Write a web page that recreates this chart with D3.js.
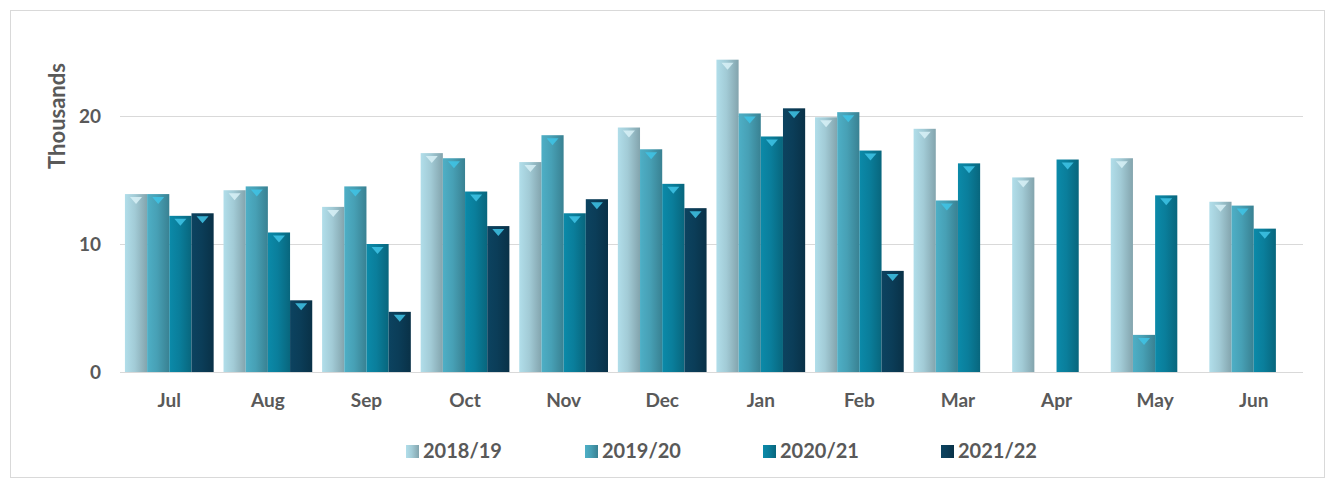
<!DOCTYPE html>
<html>
<head>
<meta charset="utf-8">
<script src="https://cdn.jsdelivr.net/npm/d3@7"></script>
<style>
  body{margin:0;background:#fff;}
  text{font-family:Lato,"Open Sans",sans-serif;}
</style>
</head>
<body>
<svg id="chart" width="1330" height="482"></svg>
<script>
// data (thousands)
let months = ["Jul","Aug","Sep","Oct","Nov","Dec","Jan","Feb","Mar","Apr","May","Jun"];
let seasons = ["2018/19","2019/20","2020/21","2021/22"];
let s2018 = [13.9,14.2,12.9,17.1,16.4,19.1,24.4,19.9,19.0,15.2,16.7,13.3];
let s2019 = [13.9,14.5,14.5,16.7,18.5,17.4,20.2,20.3,13.4,null,2.9,13.0];
let s2020 = [12.2,10.9,10.0,14.1,12.4,14.7,18.4,17.3,16.3,16.6,13.8,11.2];
let s2021 = [12.4,5.6,4.7,11.4,13.5,12.8,20.6,7.9,null,null,null,null];
let yTicks = [0,10,20];
let colors = ["#a2cbd6","#47a0b5","#0a7e9b","#0b3d58"];

let svg = d3.select("#chart");
let margin = {left:120, right:27, top:52, bottom:110};
let W = 1330, H = 482;
let x0 = d3.scaleBand().domain(months).range([margin.left, W-margin.right]).paddingInner(0.1).paddingOuter(0.05);
let x1 = d3.scaleBand().domain(seasons).range([0, x0.bandwidth()]);
let y = d3.scaleLinear().domain([0,25]).range([H-margin.bottom, margin.top]);

// outer border
svg.append("rect").attr("x",10.5).attr("y",10.5).attr("width",1314).attr("height",467)
    .style("fill","none").style("stroke","#d9d9d9");

// gradients for cylinder-ish bars
let defs = svg.append("defs");
colors.forEach((c,i)=>{
    let g = defs.append("linearGradient").attr("id","grad"+i)
        .attr("x1","0%").attr("x2","100%").attr("y1","0%").attr("y2","0%");
    let base = d3.color(c);
    g.append("stop").attr("offset","0%").attr("stop-color",base.brighter(0.25));
    g.append("stop").attr("offset","45%").attr("stop-color",base);
    g.append("stop").attr("offset","100%").attr("stop-color",base.darker(0.6));
});

// gridlines
svg.append("g").selectAll("line")
    .data(yTicks)
    .enter().append("line")
    .attr("x1",margin.left).attr("x2",W-margin.right)
    .attr("y1",d=>Math.round(y(d))+0.5).attr("y2",d=>Math.round(y(d))+0.5)
    .style("stroke","#d9d9d9").style("stroke-width",1);

// y tick labels
svg.append("g").selectAll("text")
    .data(yTicks)
    .enter().append("text")
    .attr("x",101).attr("y",d=>y(d)+7)
    .style("text-anchor","end").style("font-size","19px").style("font-weight","bold")
    .style("fill","#595959")
    .text(d=>d);

svg.append("text")
    .attr("transform","translate(65,116) rotate(-90)")
    .style("text-anchor","middle").style("font-size","22px").style("font-weight","bold")
    .style("fill","#595959")
    .text("Thousands");

// bars
let series = [s2018,s2019,s2020,s2021];
let rows = [];
series.forEach((vals,si)=>{
    vals.forEach((v,mi)=>{
        if(v!==null) rows.push({m:months[mi], s:seasons[si], si:si, v:v});
    });
});

let bars = svg.append("g");
bars.selectAll("rect")
    .data(rows)
    .enter().append("rect")
    .attr("x",d=>x0(d.m)+x1(d.s))
    .attr("y",d=>y(d.v))
    .attr("width",x1.bandwidth())
    .attr("height",d=>y(0)-y(d.v))
    .style("fill",d=>"url(#grad"+d.si+")");

// small triangle marks at top of each bar
bars.selectAll("path")
    .data(rows)
    .enter().append("path")
    .attr("d",d=>{
        let cx = x0(d.m)+x1(d.s)+x1.bandwidth()/2, ty = y(d.v)+3;
        return "M"+(cx-6)+","+ty+"L"+(cx+6)+","+ty+"L"+cx+","+(ty+7)+"Z";
    })
    .style("fill",d=>d.si===0?"#d8f1f7":"#3fc4e6")
    .style("opacity",0.85);

// month labels
svg.append("g").selectAll("text")
    .data(months)
    .enter().append("text")
    .attr("x",d=>x0(d)+x0.bandwidth()/2)
    .attr("y",407)
    .style("text-anchor","middle").style("font-size","19px").style("font-weight","bold")
    .style("fill","#595959")
    .text(d=>d);

// legend
let legX = [406,585,763,941];
let leg = svg.append("g").selectAll("g")
    .data(seasons)
    .enter().append("g")
    .attr("transform",(d,i)=>"translate("+legX[i]+",445)");
leg.append("rect").attr("width",13).attr("height",13)
    .style("fill",(d,i)=>"url(#grad"+i+")");
leg.append("text").attr("x",17).attr("y",13)
    .style("font-size","20px").style("font-weight","bold").style("fill","#595959")
    .text(d=>d);
</script>
</body>
</html>
